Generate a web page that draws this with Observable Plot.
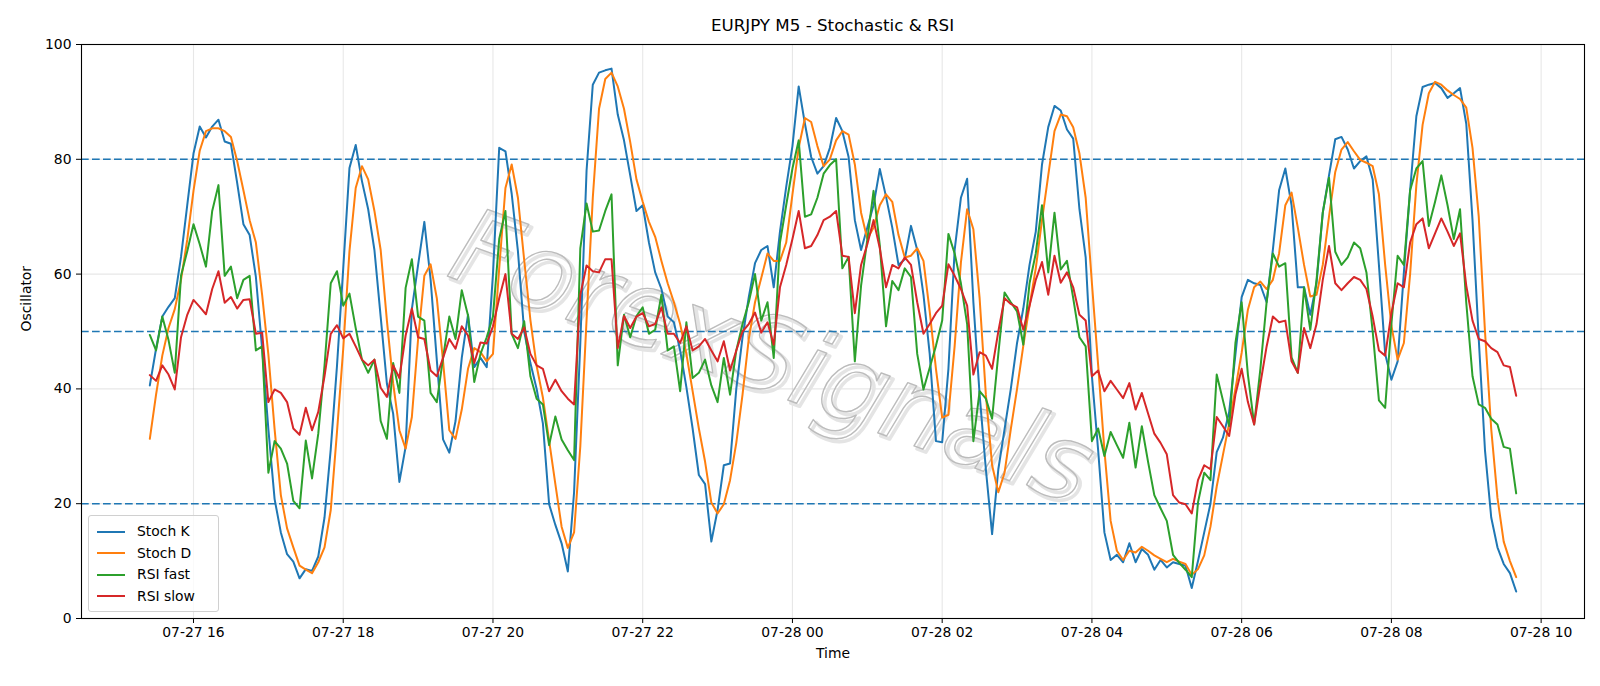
<!DOCTYPE html>
<html>
<head>
<meta charset="utf-8">
<script src="https://cdn.jsdelivr.net/npm/d3@7"></script>
<script src="https://cdn.jsdelivr.net/npm/@observablehq/plot@0.6"></script>
<style>
  html, body { margin: 0; padding: 0; background: white; }
  #wrap { position: relative; width: 1600px; height: 686px; background: white; font-family: "DejaVu Sans", sans-serif; }
  #title { box-sizing: border-box; height: 36px; padding: 15px 16px 0 81px; line-height: 20px; font-size: 16.7px; text-align: center; color: black; }
  #legend { position: absolute; left: 88px; top: 515px; width: 131px; height: 97px; box-sizing: border-box;
            border: 1px solid #d0d0d0; border-radius: 3px; background: rgba(255,255,255,0.8); font-size: 13.9px; }
  .row { position: absolute; left: 0; height: 21.5px; line-height: 21.5px; width: 100%; }
  .sw { position: absolute; left: 8px; width: 28px; height: 2px; }
  .lb { position: absolute; left: 48px; top: 0; white-space: nowrap; color: black; }
</style>
</head>
<body>
<div id="wrap">
  <div id="title"></div>
  <div id="chart"></div>
  <div id="legend"></div>
</div>
<script>
const titleText = "EURJPY M5 - Stochastic & RSI";
const seriesNames = ["Stoch K", "Stoch D", "RSI fast", "RSI slow"];
const seriesColors = ["#1f77b4", "#ff7f0e", "#2ca02c", "#d62728"];
const levels = [20, 50, 80];
const yTicks = [0, 20, 40, 60, 80, 100];
const tickTimes = ["2023-07-27T16:00Z","2023-07-27T18:00Z","2023-07-27T20:00Z","2023-07-27T22:00Z","2023-07-28T00:00Z",
                   "2023-07-28T02:00Z","2023-07-28T04:00Z","2023-07-28T06:00Z","2023-07-28T08:00Z","2023-07-28T10:00Z"].map(s => new Date(s));
const startTime = Date.UTC(2023, 6, 27, 15, 25);
const stepMs = 5 * 60 * 1000;
const watermarkText = "ForexSignals";

const stochK = [
40.6,47,52.6,54.3,55.8,63,72,81,85.7,83.8,
85.7,86.9,83.1,82.7,75.9,68.7,66.8,59.5,47,33,
20.8,15,11.2,9.9,7,8.6,8.3,10.8,17.6,29.5,
44,61,78.5,82.5,76.2,71.3,64.2,52.6,40.9,35.7,
23.8,29.9,53.9,61.6,69.1,59.1,45,31.2,28.9,34.4,
45.4,52.9,43.8,45.4,43.8,60,82,81.4,74,64,
50,44.5,40,34,19.9,16.3,13.1,8.2,22,48,
78,93,95.1,95.5,95.8,87.8,83.3,77.2,71,72,
65.5,60.3,57.4,52.6,51.6,46.7,40.3,33.1,25,23.4,
13.4,18.9,26.7,27,40,49,56,61.9,64.2,64.9,
57.7,67.4,75.2,82.3,92.7,86.2,80.4,77.5,78.8,82,
87.2,84.9,80.4,69.4,64.2,68.1,72,78.3,73.5,68.1,
61.6,62.6,68.4,64.2,56.4,46.1,30.9,30.7,43.5,64.2,
73.3,76.6,55.1,39,26,14.7,26,33,40,48,
54,61.6,67.4,79.1,85.6,89.3,88.5,85.2,83.6,71.3,
62.9,42.2,29.3,15,10.2,11.1,9.8,13.1,9.8,12.1,
11.1,8.5,10.2,8.9,9.8,9.5,9.2,5.3,10,15,
20,29,31.5,36,46,56,59,58.4,58.1,55.1,
64.2,74.6,78.4,72,57.7,57.7,52.9,58.4,70.7,77.2,
83.5,83.9,81.7,78.4,79.7,80.5,76.5,61.6,46.1,41.6,
44.8,60.3,74.6,87.5,92.6,93,93.3,92.4,90.7,91.5,
92.4,86.2,69.4,48.7,29.3,17.6,12.4,9.5,7.9,4.7];

const stochD = [
31.3,39,45.8,50.6,53.9,59,66,74.5,81.5,84.9,
85.4,85.4,84.9,83.9,79.7,74.6,69.4,65.5,56.4,46,
33,21.5,15.7,12.4,9.2,8.5,7.9,9.8,12.4,18.9,
32.5,47,64,75,78.8,76.5,71,64.2,51.9,41,
32.8,29.6,35.1,48.7,59.7,61.7,55.8,44.8,32.8,31.3,
36.4,43.5,47.1,46.4,44.8,46.1,61,75,79.1,73.3,
62.5,52,44,38.5,31,23.4,16,12.3,15,30,
52,73.3,88.8,94,95.1,92.7,88.8,83,76.5,72.6,
69.1,66.5,62.3,58.4,55.1,51.3,46.1,39.6,33.1,27.3,
20.2,18.3,19.9,24.1,30.6,39,48.7,55.1,59.3,63.6,
62.3,62.3,65.5,73.9,82,87.2,86.5,82.3,78.8,80,
83.3,84.9,84.3,79.1,70.7,66.1,68.1,72,73.9,72.6,
66.8,62.9,63.2,64.5,62.3,53.5,43.5,35,35.5,47.5,
62,71.3,67.8,55.8,39,26.7,22,25.4,33,40,
47.5,54.5,61,69.4,77.2,84.9,87.8,87.5,85.6,81,
73.3,58.4,44.1,29.3,17,11.8,10.2,11.8,11.5,12.5,
11.8,11,10.4,9.8,10.4,9.9,9.5,7.6,8.6,11,
16,23,28.5,34,40,46.3,53.8,57.7,58.7,57.4,
59,63.6,72,74.2,68.1,61.6,56.1,56.4,61.6,70,
77.8,81.7,83,81.4,79.9,79.4,78.8,73.9,61.6,51,
45.1,48,60,75.5,86,91.5,93.5,93,92,91.2,
90.5,89,82,70,50,33,21,13.4,10,7.2];

const rsiFast = [
49.4,46.7,52.6,48.5,42.8,59.7,64,68.7,65.2,61.3,
71,75.5,59.7,61.3,55.8,59,59.7,46.7,47.4,25.4,
30.9,29.6,27,20.5,19.2,31,24.4,32.2,44,58.4,
60.5,54.5,56.6,50.6,45.1,42.8,45.1,34.4,31.3,44.5,
39.3,57.6,62.6,52.6,51.9,39.3,37.7,45.4,52.6,48.7,
57.2,52.8,41.2,46.1,49,52.6,66.1,71,49.6,47.1,
51.8,42.2,38.3,37.3,30.2,35.2,31.2,29.3,27.6,64.5,
72.3,67.4,67.6,71,73.9,44.1,52.9,49,52.7,54.2,
49.6,50.3,56.4,46.7,47.4,39.6,51.6,41.9,42.8,45.1,
40.6,37.7,45.4,39,46.7,51.3,55.1,60,51.9,55.1,
45.4,65.5,72,78.4,83.3,70,70.4,73.3,77.5,79,
80,61,63,44.8,58,66,74.5,65,50.9,58.8,
57.2,61,59.5,46.1,39.9,43.7,47.5,51.9,67,63.6,
58.4,51.3,30.9,39.6,38.3,34.8,46.1,56.8,55.1,53.5,
47.7,58.4,63.6,72,60.3,70.7,60.8,62.3,55.8,49,
47.4,30.9,33.1,28.3,32.5,30.2,28,34.1,26.3,33.5,
27.3,21.5,19.2,17,11.1,9.7,8.5,7.2,20.2,25.4,
24.1,42.5,38,33.5,48,55.1,42.5,33.8,43.5,55.1,
63.6,61.3,61.9,45.5,42.8,57.7,50.3,59,70.7,76.8,
63.9,61.6,62.9,65.5,64.5,60.3,50,38,36.7,51.3,
63.2,61.6,74.6,78.4,79.7,68.4,72.6,77.2,72,66.1,
71.3,55,42.2,37.3,36.7,34.8,33.8,29.9,29.6,21.8];

const rsiSlow = [
42.4,41.4,44.1,42.5,39.9,49,52.9,55.5,54.3,53,
57.4,60.5,55,56,54,55.5,55.6,49.6,49.8,37.7,
39.9,39.3,37.7,33.1,32,36.7,32.8,36,42.2,49.6,
51.1,48.8,49.6,47.4,45.1,44.1,45.1,40.2,38.6,44.1,
41.9,49.3,54,49,48.7,43.2,42.2,45.4,48.7,47,
50.9,49.3,44.5,48.1,47.9,50.9,55.8,60,49.6,48.7,
50.7,46.1,44.1,43.5,39.6,41.6,39.6,38.3,37.3,56.4,
61.5,60.5,60.3,62.6,62.6,47.1,52.7,50.6,52.6,53.2,
50.9,51.3,54.2,49.6,49.6,48,50.9,46.7,47.4,48.7,
46.7,44.8,48.3,43.2,46.7,50,51.3,53.3,49.8,51.6,
47.7,57.7,61.6,66.1,71,64.5,64.9,66.8,69.4,70,
71,63.2,63,53.2,61.6,65.2,69.4,64.5,57.7,61.6,
61,62.9,61.6,55.1,49.6,51.3,53.2,54.5,61.7,59.7,
57.4,54.5,42.5,46.4,45.8,43.5,50,55.8,54.8,54.2,
50.3,54.5,59,62.1,56.4,63.2,58.5,60.3,57.7,52.9,
51.9,42.2,43.2,39.6,41.4,39.9,38.4,41,36.4,39.3,
35.7,32.2,30.6,28.6,21.5,20.2,19.9,18.3,24.1,26.7,
26,35.1,33.5,31.8,39,43.5,37.7,33.8,40.9,47.4,
52.6,51.6,51.9,44.8,42.8,50.6,47.1,51.3,59,64.9,
58.4,57.2,58.4,59.5,59,57.4,52.6,46.7,45.8,53.2,
58.4,57.7,65.5,68.7,69.7,64.5,67.1,69.7,67.4,64.9,
67.1,58,51.9,48.7,48.3,47.1,46.4,44.1,43.8,38.8];

const series = [stochK, stochD, rsiFast, rsiSlow];
const times = stochK.map((_, i) => new Date(startTime + i * stepMs));
const pad = (times[times.length - 1] - times[0]) * 0.05;
const xDomain = [new Date(+times[0] - pad), new Date(+times[times.length - 1] + pad)];
const fmt = d3.utcFormat("%m-%d %H");

document.getElementById("title").textContent = titleText;

const lineMarks = series.map((vals, k) =>
  Plot.line(vals, {x: (d, i) => times[i], y: d => d, stroke: seriesColors[k], strokeWidth: 2, curve: "linear"}));

const wmCommon = {text: d => d, frameAnchor: "middle", rotate: 20, fontSize: 105, fontStyle: "italic",
                  fontFamily: "DejaVu Sans", fill: "none"};

const chart = Plot.plot({
  width: 1600,
  height: 650,
  marginTop: 8,
  marginBottom: 68,
  marginLeft: 81,
  marginRight: 16,
  style: {fontFamily: "DejaVu Sans", fontSize: "13.9px", color: "black", background: "white", overflow: "visible"},
  x: {type: "utc", domain: xDomain},
  y: {domain: [0, 100]},
  marks: [
    Plot.gridX(tickTimes, {stroke: "#b0b0b0", strokeOpacity: 0.3, strokeWidth: 1.1}),
    Plot.gridY(yTicks, {stroke: "#b0b0b0", strokeOpacity: 0.3, strokeWidth: 1.1}),
    Plot.text([watermarkText], {...wmCommon, dx: -58, dy: 30, stroke: "#e4e4e4", strokeWidth: 3.5}),
    Plot.text([watermarkText], {...wmCommon, dx: -61, dy: 27, stroke: "#bcbcbc", strokeWidth: 1.4}),
    Plot.ruleY(levels, {stroke: "#1f77b4", strokeWidth: 1.4, strokeDasharray: "7.7,3.3"}),
    ...lineMarks,
    Plot.frame({stroke: "black", strokeWidth: 1.1}),
    Plot.axisX(tickTimes, {tickFormat: fmt, tickSize: 5, tickPadding: 4, label: null, fontSize: 13.9}),
    Plot.axisY(yTicks, {tickSize: 5, tickPadding: 5, label: null, fontSize: 13.9}),
    Plot.text(["Time"], {text: d => d, frameAnchor: "bottom", dy: 39, fontSize: 13.9}),
    Plot.text(["Oscillator"], {text: d => d, frameAnchor: "left", dx: -55, rotate: -90, fontSize: 13.9})
  ]
});
document.getElementById("chart").appendChild(chart);

const legend = document.getElementById("legend");
seriesNames.forEach((name, k) => {
  const row = document.createElement("div");
  row.className = "row";
  row.style.top = (5 + 21.5 * k) + "px";
  const sw = document.createElement("div");
  sw.className = "sw";
  sw.style.background = seriesColors[k];
  sw.style.top = "9.75px";
  const lb = document.createElement("div");
  lb.className = "lb";
  lb.textContent = name;
  row.appendChild(sw);
  row.appendChild(lb);
  legend.appendChild(row);
});
</script>
</body>
</html>
